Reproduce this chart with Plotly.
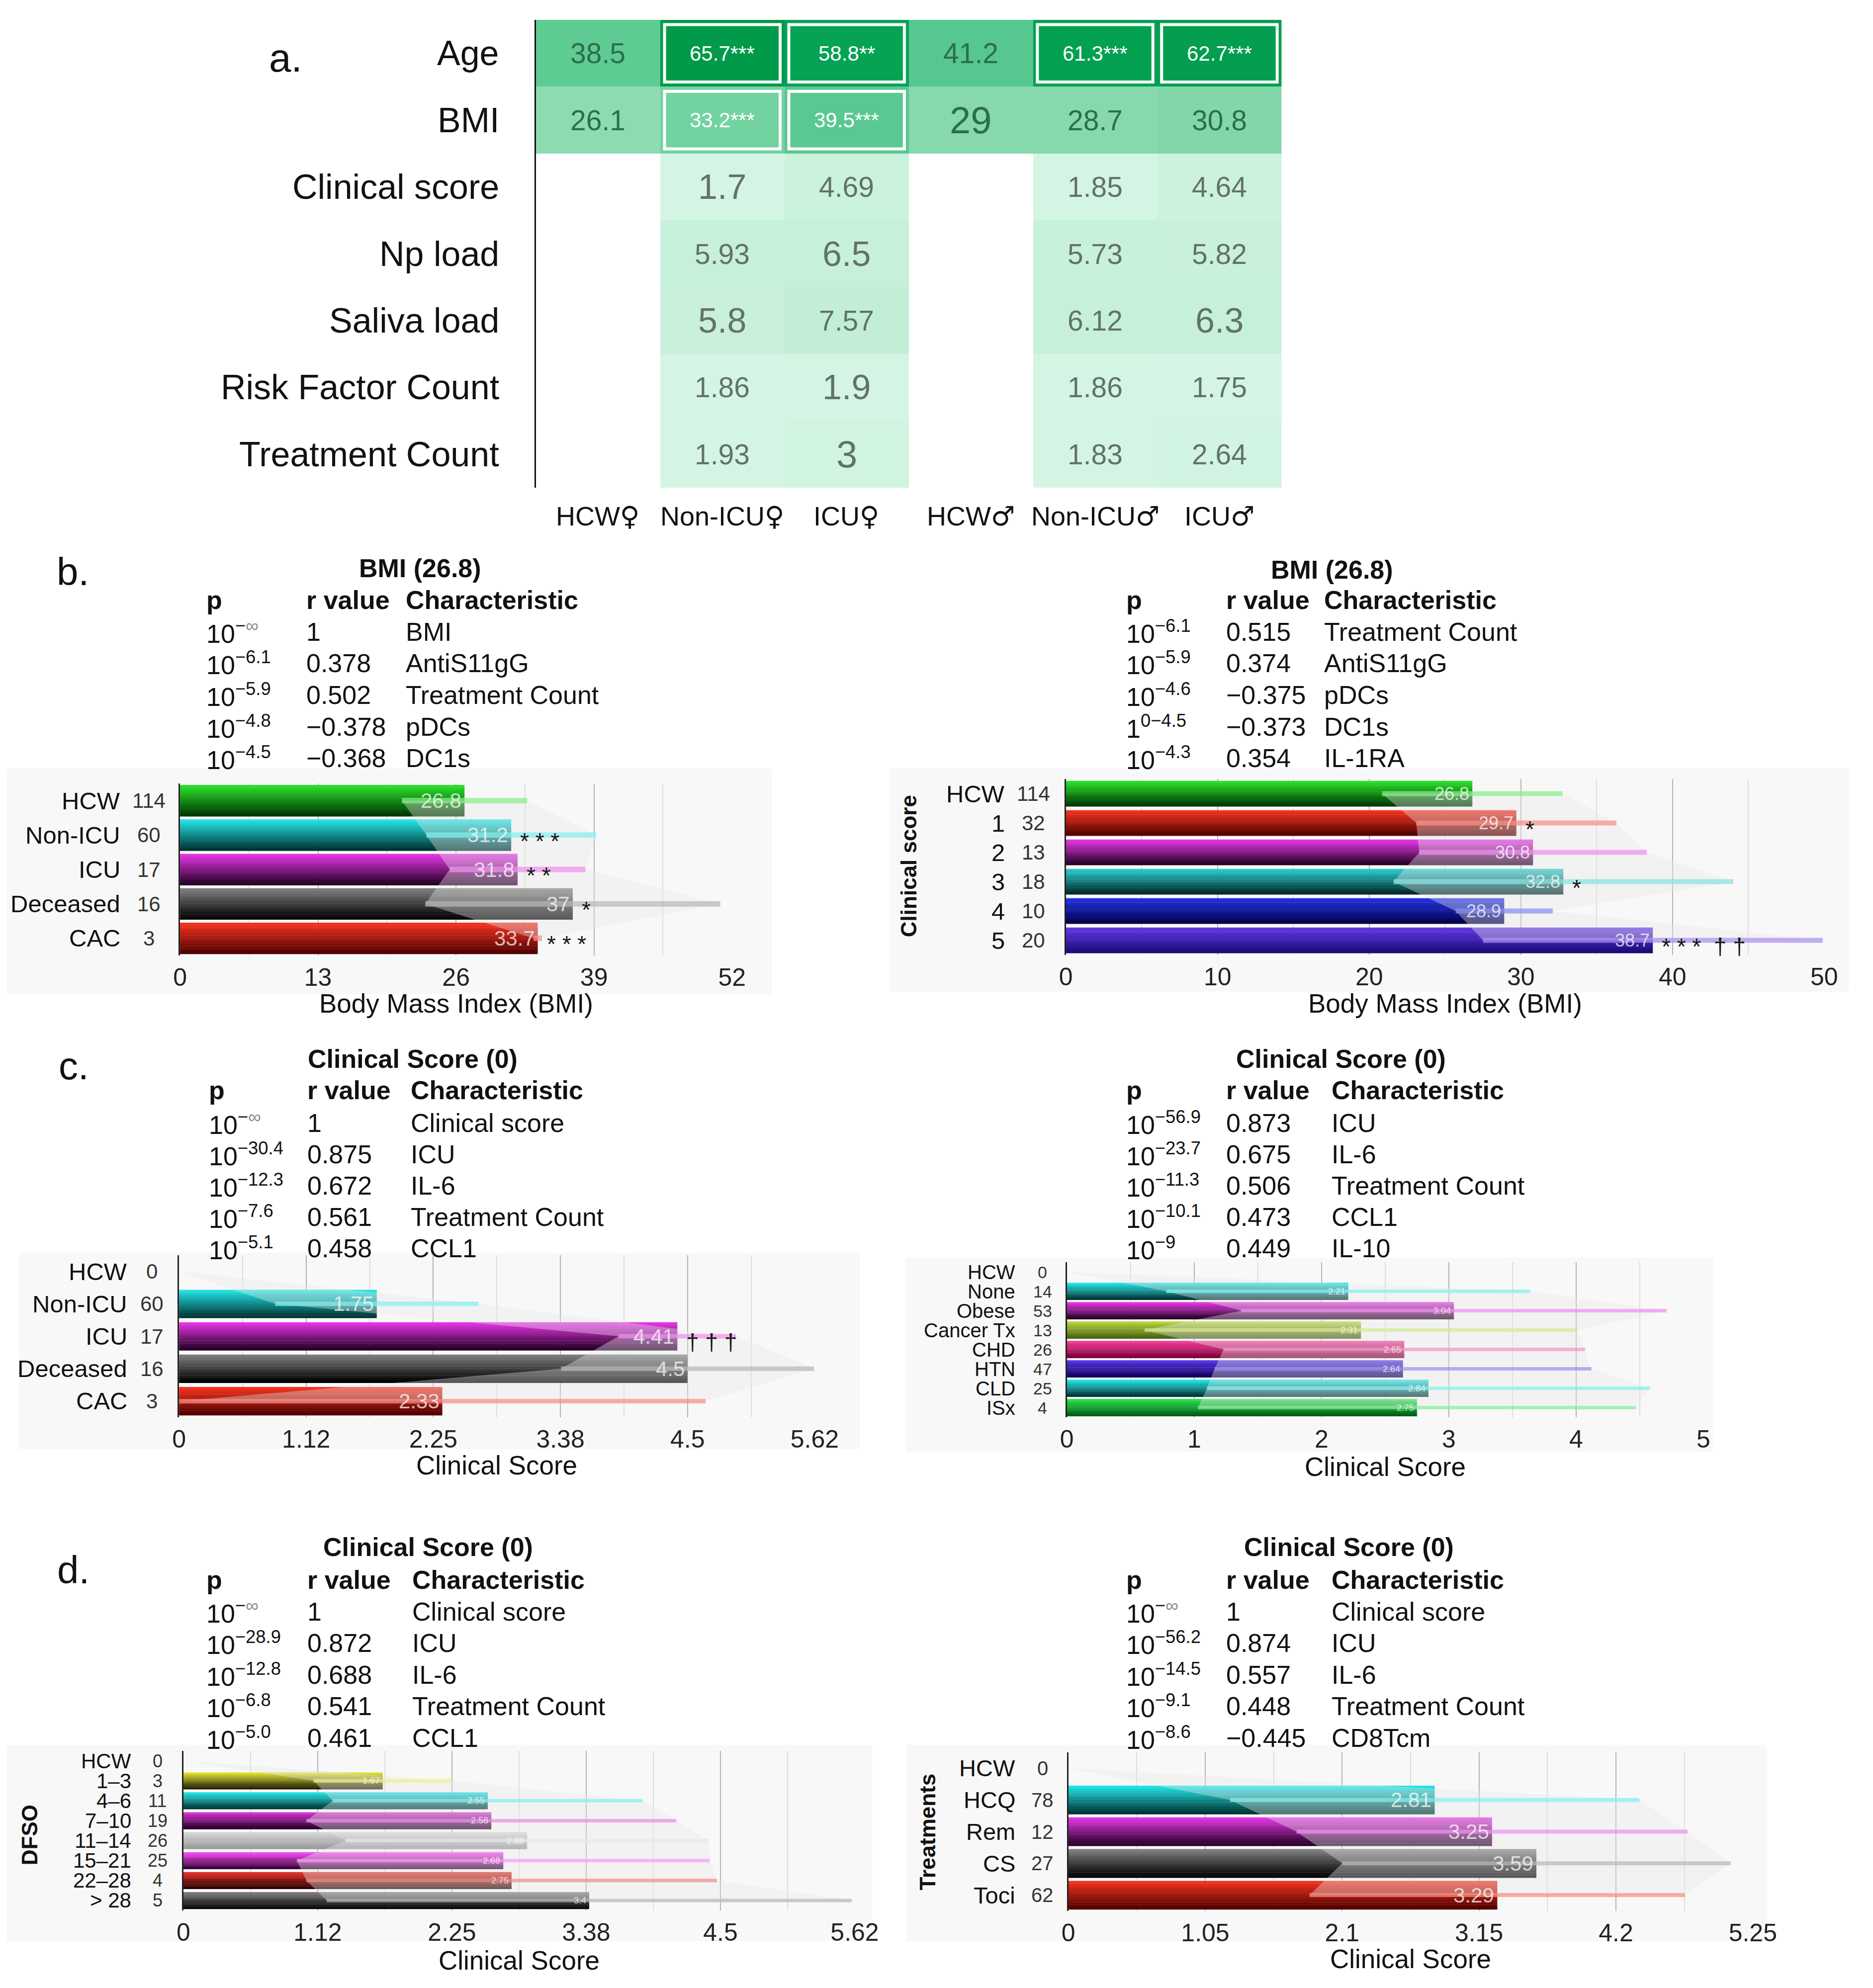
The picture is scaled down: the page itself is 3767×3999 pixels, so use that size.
import plotly.graph_objects as go

# ======================= DATA =======================
# ---- panel a (heatmap) ----
HM_COLS = ["HCW♀", "Non-ICU♀", "ICU♀", "HCW♂", "Non-ICU♂", "ICU♂"]
HM_ROWS = ["Age", "BMI", "Clinical score", "Np load", "Saliva load",
           "Risk Factor Count", "Treatment Count"]
HM_AGE = [38.5, 65.7, 58.8, 41.2, 61.3, 62.7]
HM_BMI = [26.1, 33.2, 39.5, 29, 28.7, 30.8]
HM_CLIN = [None, 1.7, 4.69, None, 1.85, 4.64]
HM_NP = [None, 5.93, 6.5, None, 5.73, 5.82]
HM_SALIVA = [None, 5.8, 7.57, None, 6.12, 6.3]
HM_RISK = [None, 1.86, 1.9, None, 1.86, 1.75]
HM_TREAT = [None, 1.93, 3, None, 1.83, 2.64]
HM_SIG_AGE = ["", "***", "**", "", "***", "***"]
HM_SIG_BMI = ["", "***", "***", "", "", ""]

# ---- panel b left ----
BL_CATS = ["HCW", "Non-ICU", "ICU", "Deceased", "CAC"]
BL_N = [114, 60, 17, 16, 3]
BL_MEAN = [26.8, 31.2, 31.8, 37, 33.7]
BL_SD = [5.9, 8.0, 6.4, 13.9, 0.4]
BL_SIG = ["", "***", "**", "*", "***"]
BL_TITLE = "BMI (26.8)"
BL_P = ["10^−∞", "10^−6.1", "10^−5.9", "10^−4.8", "10^−4.5"]
BL_R = ["1", "0.378", "0.502", "−0.378", "−0.368"]
BL_CHAR = ["BMI", "AntiS11gG", "Treatment Count", "pDCs", "DC1s"]
BL_TICKS = [0, 13, 26, 39, 52]
BL_TICKTEXT = ["0", "13", "26", "39", "52"]
BL_XTITLE = "Body Mass Index (BMI)"

# ---- panel b right ----
BR_CATS = ["HCW", "1", "2", "3", "4", "5"]
BR_N = [114, 32, 13, 18, 10, 20]
BR_MEAN = [26.8, 29.7, 30.8, 32.8, 28.9, 38.7]
BR_SD = [5.95, 6.6, 7.5, 11.2, 3.2, 11.2]
BR_SIG = ["", "*", "", "*", "", "*** ††"]
BR_TITLE = "BMI (26.8)"
BR_P = ["10^−6.1", "10^−5.9", "10^−4.6", "1^0−4.5", "10^−4.3"]
BR_R = ["0.515", "0.374", "−0.375", "−0.373", "0.354"]
BR_CHAR = ["Treatment Count", "AntiS11gG", "pDCs", "DC1s", "IL-1RA"]
BR_TICKS = [0, 10, 20, 30, 40, 50]
BR_TICKTEXT = ["0", "10", "20", "30", "40", "50"]
BR_XTITLE = "Body Mass Index (BMI)"
BR_YTITLE = "Clinical score"

# ---- panel c left ----
CL_CATS = ["HCW", "Non-ICU", "ICU", "Deceased", "CAC"]
CL_N = [0, 60, 17, 16, 3]
CL_MEAN = [0, 1.75, 4.41, 4.5, 2.33]
CL_SD = [0, 0.9, 0.52, 1.12, 2.33]
CL_SIG = ["", "", "†††", "", ""]
CL_TITLE = "Clinical Score (0)"
CL_P = ["10^−∞", "10^−30.4", "10^−12.3", "10^−7.6", "10^−5.1"]
CL_R = ["1", "0.875", "0.672", "0.561", "0.458"]
CL_CHAR = ["Clinical score", "ICU", "IL-6", "Treatment Count", "CCL1"]
CL_TICKS = [0, 1.125, 2.25, 3.375, 4.5, 5.625]
CL_TICKTEXT = ["0", "1.12", "2.25", "3.38", "4.5", "5.62"]
CL_XTITLE = "Clinical Score"

# ---- panel c right ----
CR_CATS = ["HCW", "None", "Obese", "Cancer Tx", "CHD", "HTN", "CLD", "ISx"]
CR_N = [0, 14, 53, 13, 26, 47, 25, 4]
CR_MEAN = [0, 2.21, 3.04, 2.31, 2.65, 2.64, 2.84, 2.75]
CR_SD = [0, 1.43, 1.67, 1.7, 1.42, 1.48, 1.74, 1.72]
CR_SIG = ["", "", "", "", "", "", "", ""]
CR_TITLE = "Clinical Score (0)"
CR_P = ["10^−56.9", "10^−23.7", "10^−11.3", "10^−10.1", "10^−9"]
CR_R = ["0.873", "0.675", "0.506", "0.473", "0.449"]
CR_CHAR = ["ICU", "IL-6", "Treatment Count", "CCL1", "IL-10"]
CR_TICKS = [0, 1, 2, 3, 4, 5]
CR_TICKTEXT = ["0", "1", "2", "3", "4", "5"]
CR_XTITLE = "Clinical Score"

# ---- panel d left ----
DL_CATS = ["HCW", "1–3", "4–6", "7–10", "11–14", "15–21", "22–28", "> 28"]
DL_N = [0, 3, 11, 19, 26, 25, 4, 5]
DL_MEAN = [0, 1.67, 2.55, 2.58, 2.88, 2.68, 2.75, 3.4]
DL_SD = [0, 0.58, 1.30, 1.55, 1.52, 1.73, 1.72, 2.2]
DL_SIG = ["", "", "", "", "", "", "", ""]
DL_TITLE = "Clinical Score (0)"
DL_P = ["10^−∞", "10^−28.9", "10^−12.8", "10^−6.8", "10^−5.0"]
DL_R = ["1", "0.872", "0.688", "0.541", "0.461"]
DL_CHAR = ["Clinical score", "ICU", "IL-6", "Treatment Count", "CCL1"]
DL_TICKS = [0, 1.125, 2.25, 3.375, 4.5, 5.625]
DL_TICKTEXT = ["0", "1.12", "2.25", "3.38", "4.5", "5.62"]
DL_XTITLE = "Clinical Score"
DL_YTITLE = "DFSO"

# ---- panel d right ----
DR_CATS = ["HCW", "HCQ", "Rem", "CS", "Toci"]
DR_N = [0, 78, 12, 27, 62]
DR_MEAN = [0, 2.81, 3.25, 3.59, 3.29]
DR_SD = [0, 1.57, 1.5, 1.49, 1.44]
DR_SIG = ["", "", "", "", ""]
DR_TITLE = "Clinical Score (0)"
DR_P = ["10^−∞", "10^−56.2", "10^−14.5", "10^−9.1", "10^−8.6"]
DR_R = ["1", "0.874", "0.557", "0.448", "−0.445"]
DR_CHAR = ["Clinical score", "ICU", "IL-6", "Treatment Count", "CD8Tcm"]
DR_TICKS = [0, 1.05, 2.1, 3.15, 4.2, 5.25]
DR_TICKTEXT = ["0", "1.05", "2.1", "3.15", "4.2", "5.25"]
DR_XTITLE = "Clinical Score"
DR_YTITLE = "Treatments"

# ======================= STYLE =======================
W, H = 3767, 3999
FONT = "Liberation Sans, Arial, Helvetica, sans-serif"


def fx(x):
    return x / W


def fy(y):
    return 1 - y / H


def hex2rgb(h):
    h = h.lstrip("#")
    return tuple(int(h[i:i + 2], 16) for i in (0, 2, 4))


def mix(c1, c2, t):
    a, b = hex2rgb(c1), hex2rgb(c2)
    return "rgb(%d,%d,%d)" % tuple(round(a[i] + (b[i] - a[i]) * t) for i in range(3))


def tint(c, t, alpha):
    a = hex2rgb(c)
    v = [round(a[i] + (255 - a[i]) * t) for i in range(3)]
    return "rgba(%d,%d,%d,%.2f)" % (v[0], v[1], v[2], alpha)


SHADES = {
    "green": ("#2ade2a", "#003800"),
    "cyan": ("#22e2e2", "#003434"),
    "teal": ("#2ac8c8", "#002a2a"),
    "magenta": ("#e234e2", "#260026"),
    "gray": ("#7c7c7c", "#000000"),
    "red": ("#f2321e", "#520000"),
    "blue": ("#2230e0", "#00004c"),
    "indigo": ("#6236e0", "#180a78"),
    "violet": ("#5232e2", "#10005e"),
    "olive": ("#b2d438", "#4a6212"),
    "pink": ("#f03c94", "#7e003e"),
    "lime": ("#26e04a", "#005c16"),
    "yellow": ("#e2e236", "#1c1c00"),
    "silver": ("#d4d4d4", "#9a9a9a"),
    "orchid": ("#f448f4", "#380038"),
    "crimson": ("#e02a20", "#280000"),
    "purple": ("#d232d2", "#280028"),
}

PANELS = [
    dict(cats=BL_CATS, n=BL_N, mean=BL_MEAN, sd=BL_SD, sig=BL_SIG, title=BL_TITLE,
         p=BL_P, r=BL_R, ch=BL_CHAR, ticks=BL_TICKS, ticktext=BL_TICKTEXT,
         xtitle=BL_XTITLE, ytitle=None,
         colors=["green", "cyan", "magenta", "gray", "red"],
         x0=354, x1=1483, y0=1576, y1=1922, bw=0.91, name_x=234, n_x=290,
         cat_font=49, n_font=42, val_font=42, err_w=11, tick_y=1972, xt_y=2018,
         title_xy=(845, 1143), head_y=1207, rows_y=[1271, 1334, 1398, 1462, 1525],
         cols_x=[406, 610, 814], bg=(0, 1545, 1565, 2000), label=("b.", 100, 1150)),
    dict(cats=BR_CATS, n=BR_N, mean=BR_MEAN, sd=BR_SD, sig=BR_SIG, title=BR_TITLE,
         p=BR_P, r=BR_R, ch=BR_CHAR, ticks=BR_TICKS, ticktext=BR_TICKTEXT,
         xtitle=BR_XTITLE, ytitle=(BR_YTITLE, 1844, 1742),
         colors=["green", "red", "magenta", "teal", "blue", "indigo"],
         x0=2166, x1=3717, y0=1567, y1=1921, bw=0.87, name_x=2043, n_x=2100,
         cat_font=49, n_font=42, val_font=36, err_w=10, tick_y=1970, xt_y=2018,
         title_xy=(2710, 1146), head_y=1207, rows_y=[1271, 1334, 1398, 1462, 1525],
         cols_x=[2287, 2492, 2692], bg=(1805, 1545, 3767, 1995), label=None),
    dict(cats=CL_CATS, n=CL_N, mean=CL_MEAN, sd=CL_SD, sig=CL_SIG, title=CL_TITLE,
         p=CL_P, r=CL_R, ch=CL_CHAR, ticks=CL_TICKS, ticktext=CL_TICKTEXT,
         xtitle=CL_XTITLE, ytitle=None,
         colors=["green", "cyan", "magenta", "gray", "red"],
         x0=352, x1=1652, y0=2525, y1=2851, bw=0.87, name_x=248, n_x=296,
         cat_font=49, n_font=42, val_font=42, err_w=9, tick_y=2892, xt_y=2947,
         title_xy=(830, 2130), head_y=2193, rows_y=[2259, 2322, 2385, 2448, 2511],
         cols_x=[411, 612, 824], bg=(25, 2520, 1745, 2915), label=("c.", 104, 2144)),
    dict(cats=CR_CATS, n=CR_N, mean=CR_MEAN, sd=CR_SD, sig=CR_SIG, title=CR_TITLE,
         p=CR_P, r=CR_R, ch=CR_CHAR, ticks=CR_TICKS, ticktext=CR_TICKTEXT,
         xtitle=CR_XTITLE, ytitle=None,
         colors=["green", "cyan", "magenta", "olive", "pink", "violet", "cyan", "lime"],
         x0=2168, x1=3470, y0=2539, y1=2851, bw=0.88, name_x=2065, n_x=2118,
         cat_font=40, n_font=34, val_font=18, err_w=7, tick_y=2895, xt_y=2950,
         title_xy=(2729, 2130), head_y=2193, rows_y=[2259, 2322, 2385, 2448, 2511],
         cols_x=[2287, 2492, 2707], bg=(1838, 2530, 3490, 2920), label=None),
    dict(cats=DL_CATS, n=DL_N, mean=DL_MEAN, sd=DL_SD, sig=DL_SIG, title=DL_TITLE,
         p=DL_P, r=DL_R, ch=DL_CHAR, ticks=DL_TICKS, ticktext=DL_TICKTEXT,
         xtitle=DL_XTITLE, ytitle=(DL_YTITLE, 46, 3691),
         colors=["green", "yellow", "cyan", "purple", "silver", "orchid", "crimson", "gray"],
         x0=361, x1=1734, y0=3522, y1=3843, bw=0.85, name_x=256, n_x=308,
         cat_font=42, n_font=36, val_font=18, err_w=7, tick_y=3891, xt_y=3943,
         title_xy=(861, 3112), head_y=3178, rows_y=[3242, 3305, 3369, 3432, 3496],
         cols_x=[406, 612, 827], bg=(0, 3510, 1770, 3905), label=("d.", 101, 3158)),
    dict(cats=DR_CATS, n=DR_N, mean=DR_MEAN, sd=DR_SD, sig=DR_SIG, title=DR_TITLE,
         p=DR_P, r=DR_R, ch=DR_CHAR, ticks=DR_TICKS, ticktext=DR_TICKTEXT,
         xtitle=DR_XTITLE, ytitle=(DR_YTITLE, 1882, 3685),
         colors=["green", "cyan", "magenta", "gray", "red"],
         x0=2171, x1=3571, y0=3525, y1=3844, bw=0.9, name_x=2065, n_x=2118,
         cat_font=47, n_font=40, val_font=42, err_w=8, tick_y=3891, xt_y=3940,
         title_xy=(2745, 3112), head_y=3178, rows_y=[3242, 3305, 3369, 3432, 3496],
         cols_x=[2287, 2492, 2707], bg=(1840, 3510, 3600, 3905), label=None),
]

N_STRIPES = 12
TABLE_FONT = 52
SYMBOL_FONT = "DejaVu Sans"

fig = go.Figure()
annotations = []
shapes = []
layout_axes = {}

# ======================= PANEL a =======================
hm_z = [HM_AGE, HM_BMI, HM_CLIN, HM_NP, HM_SALIVA, HM_RISK, HM_TREAT]
hm_sig = [HM_SIG_AGE, HM_SIG_BMI] + [[""] * len(HM_COLS)] * 5
HM_STOPS = [(0, "#daf7e8"), (8, "#c1eed5"), (26, "#8ddcb1"), (31, "#80d7a8"),
            (33.2, "#72d3a0"), (39.5, "#5ac991"), (42, "#54c68c"),
            (58, "#07a456"), (66, "#009a4a")]
ZMAX = 66
fig.add_trace(go.Heatmap(
    z=hm_z, x=HM_COLS, y=HM_ROWS, zmin=0, zmax=ZMAX,
    colorscale=[[v / ZMAX, c] for v, c in HM_STOPS],
    showscale=False, hoverinfo="skip", xaxis="x", yaxis="y"))
layout_axes["xaxis"] = dict(domain=[fx(1082), fx(2607)], anchor="y", type="category",
                            showticklabels=False, showgrid=False, zeroline=False,
                            showline=False, ticks="")
layout_axes["yaxis"] = dict(domain=[fy(981), fy(40)], anchor="x", type="category",
                            autorange="reversed", showticklabels=False, showgrid=False,
                            zeroline=False, showline=True, linecolor="#111", linewidth=3,
                            ticks="")


def hm_font_size(txt):
    if len(txt) <= 2:
        return 76
    if len(txt) == 3:
        return 70
    if len(txt) == 4:
        return 57
    return 42


for i, row in enumerate(hm_z):
    for j, v in enumerate(row):
        if v is None:
            continue
        s = hm_sig[i][j]
        txt = f"{v:g}{s}"
        if s:
            col = "white"
            shapes.append(dict(type="rect", xref="x", yref="y",
                               x0=j - 0.5 + 0.035, x1=j + 0.5 - 0.035,
                               y0=i - 0.5 + 0.07, y1=i + 0.5 - 0.07,
                               line=dict(color="white", width=6), layer="above"))
        elif i < 2:
            col = "#2b6f4b"
        else:
            col = "#637269"
        annotations.append(dict(x=j, y=i, xref="x", yref="y", text=txt, showarrow=False,
                                font=dict(family=FONT, size=hm_font_size(txt), color=col)))

for i, lab in enumerate(HM_ROWS):
    annotations.append(dict(x=fx(1009), y=i, xref="paper", yref="y", text=lab,
                            xanchor="right", showarrow=False,
                            font=dict(family=FONT, size=70, color="#111")))


def col_label(lab):
    for sym in ("♀", "♂"):
        lab = lab.replace(sym, f"<span style='font-family:{SYMBOL_FONT}'>{sym}</span>")
    return lab


for j, lab in enumerate(HM_COLS):
    annotations.append(dict(x=j, y=fy(1038), xref="x", yref="paper", text=col_label(lab),
                            showarrow=False, font=dict(family=FONT, size=54, color="#111")))
annotations.append(dict(x=fx(534), y=fy(116), xref="paper", yref="paper", text="a.",
                        xanchor="left", showarrow=False,
                        font=dict(family=FONT, size=80, color="#111")))


def p_html(s):
    base, exp = s.split("^")
    exp = exp.replace("∞", "<span style='color:#8c8c8c'>∞</span>")
    return f"{base}<sup>{exp}</sup>"


def sig_text(s):
    return "  ".join(" ".join(part) for part in s.split(" "))


# ======================= BAR PANELS =======================
for k, P in enumerate(PANELS):
    ax = k + 2
    xa, ya = f"x{ax}", f"y{ax}"
    cats = P["cats"]
    nc = len(cats)
    means, sds = P["mean"], P["sd"]
    tops = [SHADES[c][0] for c in P["colors"]]
    bots = [SHADES[c][1] for c in P["colors"]]
    bw = P["bw"]
    sw = bw / N_STRIPES

    # background box
    bx0, by0, bx1, by1 = P["bg"]
    shapes.append(dict(type="rect", xref="paper", yref="paper", x0=fx(bx0), x1=fx(bx1),
                       y0=fy(by1), y1=fy(by0), fillcolor="#f8f8f8",
                       line=dict(width=0), layer="below"))

    # gradient bars (stacked stripes)
    for s in range(N_STRIPES):
        t = s / (N_STRIPES - 1)
        fig.add_trace(go.Bar(
            x=means, y=cats, orientation="h", width=sw + 0.006,
            offset=-bw / 2 + s * sw,
            marker=dict(color=[mix(tops[i], bots[i], t) for i in range(nc)],
                        line=dict(width=0)),
            xaxis=xa, yaxis=ya, hoverinfo="skip", showlegend=False))

    # spread polygon
    up = [m + d for m, d in zip(means, sds)]
    lo = [max(m - d, 0) for m, d in zip(means, sds)]
    fig.add_trace(go.Scatter(
        x=up + lo[::-1], y=cats + cats[::-1], mode="lines", fill="toself",
        fillcolor="rgba(232,232,232,0.38)", line=dict(width=0),
        xaxis=xa, yaxis=ya, hoverinfo="skip", showlegend=False))

    # error bars
    for i in range(nc):
        if sds[i] <= 0:
            continue
        fig.add_trace(go.Scatter(
            x=[means[i]], y=[cats[i]], mode="markers",
            marker=dict(size=1, color="rgba(0,0,0,0)"),
            error_x=dict(type="data", symmetric=False, array=[sds[i]],
                         arrayminus=[min(sds[i], means[i])],
                         color=tint(tops[i], 0.45, 0.72), thickness=P["err_w"], width=0),
            xaxis=xa, yaxis=ya, hoverinfo="skip", showlegend=False))

    # value labels, significance, names, counts
    for i in range(nc):
        if means[i] > 0:
            annotations.append(dict(x=means[i], y=i, xref=xa, yref=ya, text=f"{means[i]:g}",
                                    xanchor="right", xshift=-4, showarrow=False,
                                    font=dict(family=FONT, size=P["val_font"],
                                              color="rgba(255,255,255,0.72)")))
        if P["sig"][i]:
            annotations.append(dict(x=means[i], y=i, xref=xa, yref=ya,
                                    text=sig_text(P["sig"][i]),
                                    xanchor="left", xshift=16, yshift=-12, showarrow=False,
                                    font=dict(family=FONT, size=46, color="#151515")))
        annotations.append(dict(x=fx(P["name_x"]), y=i, xref="paper", yref=ya, text=cats[i],
                                xanchor="right", showarrow=False,
                                font=dict(family=FONT, size=P["cat_font"], color="#111")))
        annotations.append(dict(x=fx(P["n_x"]), y=i, xref="paper", yref=ya,
                                text=str(P["n"][i]), xanchor="center", showarrow=False,
                                font=dict(family=FONT, size=P["n_font"], color="#333")))

    # axes
    ticks = P["ticks"]
    mids = [(a + b) / 2 for a, b in zip(ticks[:-1], ticks[1:])]
    layout_axes[f"xaxis{ax}"] = dict(
        domain=[fx(P["x0"]), fx(P["x1"])], anchor=ya, range=[0, ticks[-1]],
        tickmode="array", tickvals=ticks, ticktext=P["ticktext"], ticks="",
        showgrid=True, gridcolor="#b2b2b2", gridwidth=2, zeroline=False, showline=False,
        minor=dict(tickmode="array", tickvals=mids, showgrid=True, gridcolor="#dddddd",
                   gridwidth=2, ticks=""),
        tickfont=dict(family=FONT, size=50, color="#222"), ticklabelstandoff=10)
    layout_axes[f"yaxis{ax}"] = dict(
        domain=[fy(P["y1"]), fy(P["y0"])], anchor=xa, type="category",
        range=[nc - 0.5, -0.5], showticklabels=False, showgrid=False, zeroline=False,
        showline=True, linecolor="#222", linewidth=3, ticks="")

    # axis titles
    annotations.append(dict(x=(fx(P["x0"]) + fx(P["x1"])) / 2, y=fy(P["xt_y"]),
                            xref="paper", yref="paper", text=P["xtitle"], showarrow=False,
                            font=dict(family=FONT, size=53, color="#111")))
    if P["ytitle"]:
        t, tx, ty = P["ytitle"]
        annotations.append(dict(x=fx(tx), y=fy(ty), xref="paper", yref="paper",
                                text=f"<b>{t}</b>", textangle=-90, showarrow=False,
                                font=dict(family=FONT, size=44, color="#111")))

    # table
    tx, ty = P["title_xy"]
    annotations.append(dict(x=fx(tx), y=fy(ty), xref="paper", yref="paper",
                            text=f"<b>{P['title']}</b>", showarrow=False,
                            font=dict(family=FONT, size=TABLE_FONT, color="#111")))
    cx = P["cols_x"]
    for c, h in zip(cx, ["p", "r value", "Characteristic"]):
        annotations.append(dict(x=fx(c), y=fy(P["head_y"]), xref="paper", yref="paper",
                                text=f"<b>{h}</b>", xanchor="left", showarrow=False,
                                font=dict(family=FONT, size=TABLE_FONT, color="#111")))
    for r_i, ry in enumerate(P["rows_y"]):
        for c, txt in zip(cx, [p_html(P["p"][r_i]), P["r"][r_i], P["ch"][r_i]]):
            annotations.append(dict(x=fx(c), y=fy(ry), xref="paper", yref="paper",
                                    text=txt, xanchor="left", showarrow=False,
                                    font=dict(family=FONT, size=TABLE_FONT, color="#111")))
    if P["label"]:
        lt, lx, ly = P["label"]
        annotations.append(dict(x=fx(lx), y=fy(ly), xref="paper", yref="paper", text=lt,
                                xanchor="left", showarrow=False,
                                font=dict(family=FONT, size=78, color="#111")))

# explicit anchors everywhere (paper-referenced 'auto' anchors would shift texts)
for a in annotations:
    a.setdefault("xanchor", "center")
    a.setdefault("yanchor", "middle")

fig.update_layout(
    width=W, height=H, margin=dict(l=0, r=0, t=0, b=0),
    paper_bgcolor="white", plot_bgcolor="rgba(0,0,0,0)",
    barmode="overlay", showlegend=False,
    font=dict(family=FONT, color="#111"),
    annotations=annotations, shapes=shapes, **layout_axes)

fig.write_html("out.html", config={"displayModeBar": False},
               post_script="document.body.style.margin='0';")
